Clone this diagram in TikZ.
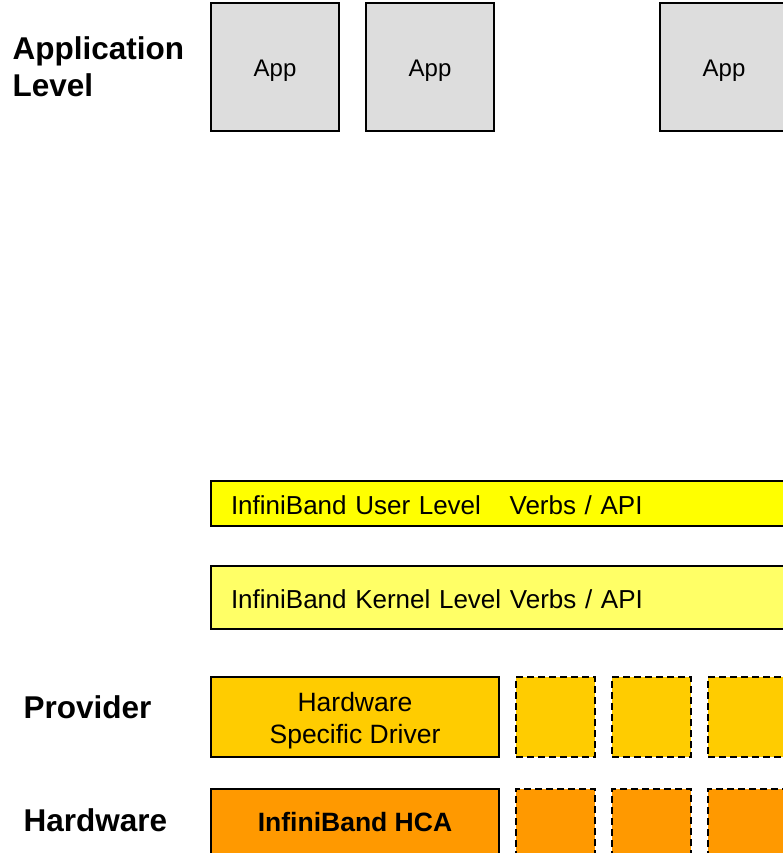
\documentclass[tikz,border=0pt]{standalone}
\usepackage{fontspec}
\setmainfont{Liberation Sans}
\usepackage{tikz}

\definecolor{appgray}{HTML}{DDDDDD}
\definecolor{userbar}{HTML}{FFFF00}
\definecolor{kernelbar}{HTML}{FFFF66}
\definecolor{provgold}{HTML}{FFCC00}
\definecolor{hwbox}{HTML}{FF9900}

\begin{document}
\begin{tikzpicture}[x=1pt,y=-1pt,
        myapp/.style={draw,line width=1.2pt,fill=appgray,minimum width=128pt,minimum height=128pt,inner sep=0pt,text height=25pt,text depth=5pt,font=\fontsize{24}{28}\selectfont},
        mybar/.style={draw,line width=1.2pt,inner xsep=20pt,inner ysep=0pt,text width=537pt,align=left,text height=21pt,text depth=0pt,font=\fontsize{26}{32}\selectfont},
        mybox/.style={draw,line width=1.2pt,minimum width=288pt,inner sep=0pt,align=center,font=\fontsize{26.5}{32}\selectfont},
        myslot/.style={draw,line width=1.2pt,dash pattern=on 7pt off 4pt,minimum width=79pt,inner sep=0pt},
        mylevel/.style={align=left,anchor=west,font=\fontsize{31.5}{37}\selectfont\bfseries}]

        \clip (0,0) rectangle (783,853);

        %level labels
        \node[mylevel] (LA) at (9,67) {Application\\Level};
        \node[mylevel] (LP) at (20,707) {Provider};
        \node[mylevel] (LH) at (20,820) {Hardware};

        %apps
        \node[myapp] (A1) at (275,67) {App};
        \node[myapp] (A2) at (430,67) {App};
        \node[myapp] (A3) at (724,67) {App};

        %verbs
        \node[mybar,fill=userbar,minimum height=45pt] (U) at (499.5,503.5) {InfiniBand User Level\hspace{1.1em}Verbs / API};
        \node[mybar,fill=kernelbar,minimum height=63pt] (K) at (499.5,597.5) {InfiniBand Kernel Level Verbs / API};

        %provider
        \node[mybox,fill=provgold,minimum height=80pt] (D) at (355,717) {\rule{0pt}{27pt}Hardware\\Specific Driver};
        \node[myslot,fill=provgold,minimum height=80pt] (D1) at (555.5,717) {};
        \node[myslot,fill=provgold,minimum height=80pt] (D2) at (651.5,717) {};
        \node[myslot,fill=provgold,minimum height=80pt] (D3) at (747.5,717) {};

        %hardware
        \node[mybox,fill=hwbox,minimum height=66pt,font=\fontsize{26.5}{32}\selectfont\bfseries] (H) at (355,822) {InfiniBand HCA};
        \node[myslot,fill=hwbox,minimum height=66pt] (H1) at (555.5,822) {};
        \node[myslot,fill=hwbox,minimum height=66pt] (H2) at (651.5,822) {};
        \node[myslot,fill=hwbox,minimum height=66pt] (H3) at (747.5,822) {};
\end{tikzpicture}
\end{document}
